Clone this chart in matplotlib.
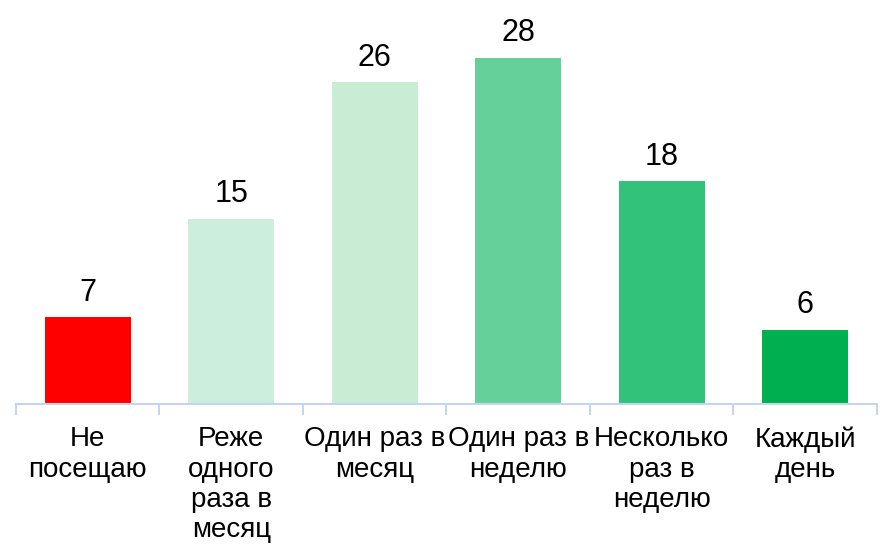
import matplotlib.pyplot as plt

plt.rcParams['font.family'] = ['Liberation Sans', 'DejaVu Sans']

# data
categories = ['Не\nпосещаю', 'Реже\nодного\nраза в\nмесяц', 'Один раз в\nмесяц',
              'Один раз в\nнеделю', 'Несколько\nраз в\nнеделю', 'Каждый\nдень']
values = [7, 15, 26, 28, 18, 6]
colors = ['#FF0000', '#CCEEDD', '#C8ECD4', '#66D09A', '#33C27A', '#00B050']

fig = plt.figure(figsize=(8.87, 5.57), dpi=100)
ax = fig.add_axes([16 / 887, (557 - 404) / 557, 861 / 887, 371 / 557])

x = range(len(values))
bars = ax.bar(x, values, width=0.6, color=colors)

for b, v in zip(bars, values):
    ax.annotate(str(v), (b.get_x() + b.get_width() / 2, v), xytext=(0, 7),
                textcoords='offset points', ha='center', va='bottom',
                fontsize=22, annotation_clip=False)

ax.set_xlim(-0.5, len(values) - 0.5)
ax.set_ylim(0, 30)

for s in ['top', 'right', 'left']:
    ax.spines[s].set_visible(False)
ax.spines['bottom'].set_color('#C5D5F0')
ax.spines['bottom'].set_linewidth(1.5)

ax.set_yticks([])
ax.set_xticks([i - 0.5 for i in range(len(values) + 1)], minor=False)
ax.set_xticklabels([])
ax.tick_params(axis='x', which='major', length=8, color='#C5D5F0', width=1.5)
ax.set_xticks(list(x), minor=True)
ax.set_xticklabels(categories, minor=True, fontsize=20, linespacing=1.22)
ax.tick_params(axis='x', which='minor', length=0, pad=16)

fig.savefig('out.png', dpi=100)
